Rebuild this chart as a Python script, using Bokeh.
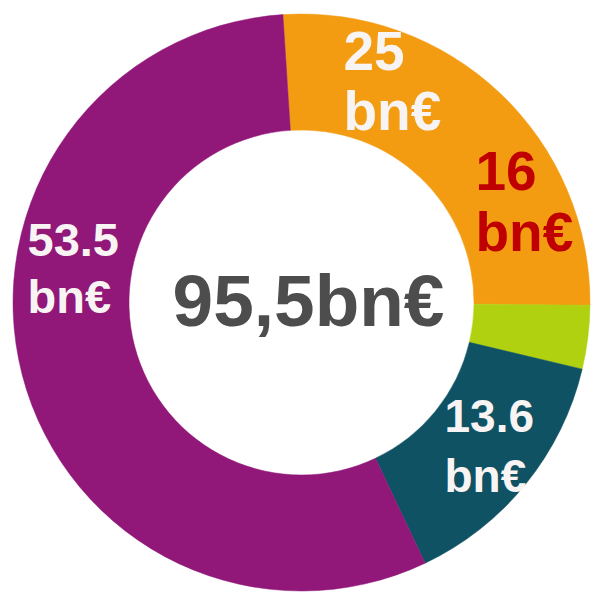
import numpy as np
from bokeh.plotting import figure
from bokeh.models import Range1d, ColumnDataSource
from bokeh.core.properties import value
from bokeh.embed import file_html
from bokeh.resources import INLINE

# ---- data ----
segments = ["A", "B", "C", "D"]
values = [25.0, 3.4, 13.6, 53.5]
colors = ["#F39C12", "#B0D10F", "#0F5263", "#911779"]
label_numbers = ["25", "16", "13.6", "53.5"]
label_unit = "bn€"
total_label = "95,5bn€"

# ---- layout (pixel coordinates, origin top-left) ----
W = H = 592
cx, cy = 301, 302
r_in, r_out = 172.5, 288.5
start_deg = -3.7  # clockwise from top

label_pos = [(343, 50, 110), (475, 170, 231), (444, 415, 475), (27, 239, 296)]
label_sizes = ["55px", "55px", "46px", "47px"]
label_colors = ["#F8F4F4", "#C00000", "#F8F4F4", "#F8F4F4"]

p = figure(width=W, height=H, x_range=Range1d(0, W), y_range=Range1d(0, H),
           output_backend="svg", toolbar_location=None,
           x_axis_type=None, y_axis_type=None, min_border=0)
p.grid.visible = False
p.outline_line_color = None
p.background_fill_color = "white"
p.border_fill_color = "white"

vals = np.array(values)
cum = np.concatenate([[0], np.cumsum(vals)]) / vals.sum() * 360.0 + start_deg
starts = np.radians(90 - cum[:-1])
ends = np.radians(90 - cum[1:])
src = ColumnDataSource(dict(x=[cx] * len(values), y=[H - cy] * len(values),
                            start=starts, end=ends, color=colors))
p.annular_wedge(x="x", y="y", inner_radius=r_in, outer_radius=r_out,
                start_angle="start", end_angle="end", direction="clock",
                fill_color="color", line_color="color", line_width=0.5, source=src)

for num, (lx, b1, b2), fs, col in zip(label_numbers, label_pos, label_sizes, label_colors):
    p.text(x=[lx, lx], y=[H - b1, H - b2], text=[num, label_unit],
           text_font=value("Liberation Sans"), text_font_style="bold",
           text_font_size=fs, text_color=col, text_align="left",
           text_baseline="alphabetic")

p.text(x=[308], y=[H - 300], text=[total_label], text_font=value("Liberation Sans"),
       text_font_style="bold", text_font_size="73px", text_color="#4D4D4D",
       text_align="center", text_baseline="alphabetic")

open("out.html", "w").write(file_html(p, INLINE))
